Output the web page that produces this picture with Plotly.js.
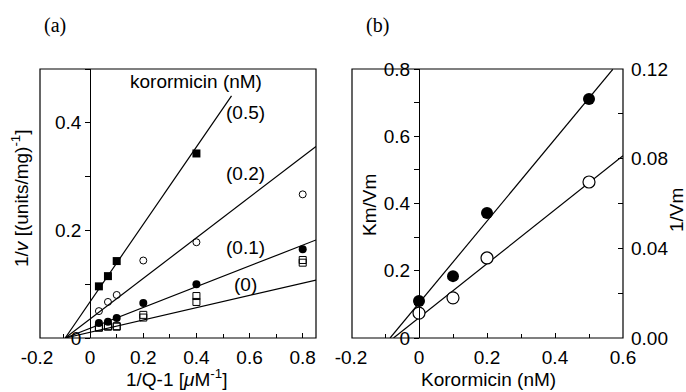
<!DOCTYPE html>
<html>
<head>
<meta charset="utf-8">
<script src="https://cdn.plot.ly/plotly-3.0.1.min.js"></script>
<style>html,body{margin:0;padding:0;background:#fff}#chart{width:686px;height:392px}</style>
</head>
<body>
<div id="chart"></div>
<script>
// ---------- Panel (a) data: 1/v vs 1/Q-1 ----------
const qInv = [0.033, 0.067, 0.1, 0.2, 0.4, 0.8];
const kor05_x = [0.033, 0.067, 0.1, 0.4];
const kor05_y = [0.096, 0.115, 0.143, 0.343];
const kor02_y = [0.050, 0.067, 0.080, 0.144, 0.178, 0.267];
const kor01_y = [0.028, 0.030, 0.037, 0.065, 0.100, 0.165];
const kor0a_y = [0.020, 0.022, 0.022, 0.043, 0.078, 0.145];
const kor0b_y = [0.019, 0.021, 0.021, 0.038, 0.067, 0.140];
// fitted lines (common x-intercept)
const fitA_x0 = -0.094;
const fitA_slopes = [0.114, 0.193, 0.377, 0.719];
const fitA_xend = [0.85, 0.85, 0.85, 0.532];
const fitA_labels = ["(0)", "(0.1)", "(0.2)", "(0.5)"];
const fitA_labelY = [0.10, 0.168, 0.305, 0.42];

// ---------- Panel (b) data: replot vs korormicin ----------
const korConc = [0, 0.1, 0.2, 0.5];
const kmVm = [0.110, 0.184, 0.372, 0.711];
const invVm = [0.0111, 0.0179, 0.0357, 0.0696];
const fitB_km = {x: [-0.085, 0.57], slope: 1.22};
const fitB_vm = {x: [-0.075, 0.6], slope: 0.1205};

// ---------- geometry ----------
const W = 686, H = 392;
const px = v => v / W, py = v => 1 - v / H;
const xA = [-0.2, 0.85], xB = [-0.2, 0.6];
const domXA = [px(37), px(316)], domXB = [px(351), px(623)];
const domY = [py(338), py(69)];
const posOf = (dom, rng) => dom[0] + (0 - rng[0]) / (rng[1] - rng[0]) * (dom[1] - dom[0]);

const FONT = "Liberation Sans, Arial, sans-serif";
const FS = 19;
const black = "#000";

const traces = [];
// fit lines panel (a)
fitA_slopes.forEach((s, i) => {
  const xs = [fitA_x0, fitA_xend[i]];
  traces.push({x: xs, y: xs.map(x => s * (x - fitA_x0)), mode: "lines",
    line: {color: black, width: 1.2}, xaxis: "x", yaxis: "y", hoverinfo: "skip", showlegend: false});
});
traces.push({x: kor05_x, y: kor05_y, mode: "markers", name: "0.5 nM",
  marker: {symbol: "square", size: 8, color: black}, xaxis: "x", yaxis: "y"});
traces.push({x: qInv, y: kor02_y, mode: "markers", name: "0.2 nM",
  marker: {symbol: "circle-open", size: 7, color: black, line: {width: 1}}, xaxis: "x", yaxis: "y"});
traces.push({x: qInv, y: kor01_y, mode: "markers", name: "0.1 nM",
  marker: {symbol: "circle", size: 8, color: black}, xaxis: "x", yaxis: "y"});
traces.push({x: qInv, y: kor0a_y, mode: "markers", name: "0 nM",
  marker: {symbol: "square-open", size: 7, color: black, line: {width: 1}}, xaxis: "x", yaxis: "y"});
traces.push({x: qInv, y: kor0b_y, mode: "markers", name: "0 nM (b)",
  marker: {symbol: "square-open", size: 7, color: black, line: {width: 1}}, xaxis: "x", yaxis: "y"});

// panel (b)
traces.push({x: fitB_km.x, y: fitB_km.x.map(x => fitB_km.slope * (x - fitB_km.x[0])), mode: "lines",
  line: {color: black, width: 1.2}, xaxis: "x2", yaxis: "y2", hoverinfo: "skip"});
traces.push({x: fitB_vm.x, y: fitB_vm.x.map(x => fitB_vm.slope * (x - fitB_vm.x[0])), mode: "lines",
  line: {color: black, width: 1.2}, xaxis: "x2", yaxis: "y3", hoverinfo: "skip"});
traces.push({x: korConc, y: kmVm, mode: "markers", name: "Km/Vm",
  marker: {symbol: "circle", size: 12, color: black}, xaxis: "x2", yaxis: "y2"});
traces.push({x: korConc, y: invVm, mode: "markers", name: "1/Vm",
  marker: {symbol: "circle", size: 12, color: "#fff", line: {color: black, width: 1.2}}, xaxis: "x2", yaxis: "y3"});

const tickFont = {family: FONT, size: FS, color: black};
const baseX = {showgrid: false, zeroline: false, showline: false, ticks: "inside", ticklen: 5,
  tickcolor: black, tickfont: tickFont, fixedrange: true, ticklabelstandoff: 6};

const ann = (text, x, y, extra) => Object.assign({text: text, xref: "paper", yref: "paper",
  x: px(x), y: py(y), xanchor: "center", yanchor: "middle", showarrow: false,
  font: {family: FONT, size: FS, color: black}}, extra || {});

const layout = {
  width: W, height: H, margin: {l: 0, r: 0, t: 0, b: 0},
  paper_bgcolor: "#fff", plot_bgcolor: "rgba(0,0,0,0)", showlegend: false,
  font: {family: FONT, color: black, size: FS},
  xaxis: Object.assign({}, baseX, {domain: domXA, range: xA, anchor: "y",
    tickvals: [-0.2, 0, 0.2, 0.4, 0.6, 0.8], ticktext: ["-0.2", "0", "0.2", "0.4", "0.6", "0.8"],
    minor: {dtick: 0.1, tick0: 0, ticks: "inside", ticklen: 4, tickcolor: black}}),
  yaxis: {domain: domY, range: [0, 0.5], anchor: "free", position: posOf(domXA, xA),
    showgrid: false, zeroline: false, showline: true, linecolor: black, linewidth: 1.2,
    ticks: "outside", ticklen: 5, tickcolor: black, tickfont: tickFont,
    tickvals: [0, 0.2, 0.4], ticktext: ["0", "0.2", "0.4"],
    minor: {dtick: 0.1, tick0: 0, ticks: "outside", ticklen: 5, tickcolor: black}},
  xaxis2: Object.assign({}, baseX, {domain: domXB, range: xB, anchor: "y2",
    tickvals: [-0.2, 0, 0.2, 0.4, 0.6], ticktext: ["-0.2", "0", "0.2", "0.4", "0.6"],
    minor: {dtick: 0.1, tick0: 0, ticks: "inside", ticklen: 4, tickcolor: black}}),
  yaxis2: {domain: domY, range: [0, 0.8], anchor: "free", position: posOf(domXB, xB),
    showgrid: false, zeroline: false, showline: true, linecolor: black, linewidth: 1.2,
    ticks: "outside", ticklen: 5, tickcolor: black, tickfont: tickFont,
    tickvals: [0, 0.2, 0.4, 0.6, 0.8], ticktext: ["0", "0.2", "0.4", "0.6", "0.8"],
    minor: {dtick: 0.1, tick0: 0, ticks: "outside", ticklen: 5, tickcolor: black}},
  yaxis3: {domain: domY, range: [0, 0.12], anchor: "x2", overlaying: "y2", side: "right",
    showgrid: false, zeroline: false, showline: false, ticklabelstandoff: 7,
    ticks: "inside", ticklen: 5, tickcolor: black, tickfont: tickFont,
    tickvals: [0, 0.04, 0.08, 0.12], ticktext: ["0.00", "0.04", "0.08", "0.12"],
    minor: {dtick: 0.02, tick0: 0, ticks: "inside", ticklen: 5, tickcolor: black}},
  shapes: [
    {type: "rect", xref: "paper", yref: "paper", x0: px(40), x1: px(316), y0: domY[0], y1: domY[1],
      line: {color: black, width: 1.2}},
    {type: "rect", xref: "paper", yref: "paper", x0: px(352), x1: px(623), y0: domY[0], y1: domY[1],
      line: {color: black, width: 1.2}}
  ],
  annotations: [
    ann("(a)", 55, 25, {font: {family: "Liberation Serif, Times New Roman, serif", size: 20, color: black}}),
    ann("(b)", 377, 25, {font: {family: "Liberation Serif, Times New Roman, serif", size: 20, color: black}}),
    ann("1/Q-1 [<i>μ</i>M<sup>-1</sup>]", 176, 378),
    ann("1/<i>v</i> [(units/mg)<sup>-1</sup>]", 20, 198, {textangle: -90}),
    ann("Korormicin (nM)", 488, 379),
    ann("Km/Vm", 369, 205, {textangle: -90}),
    ann("1/Vm", 676, 210, {textangle: -90}),
    {text: "korormicin (nM)", xref: "x", yref: "y", x: 0.40, y: 0.476, xanchor: "center", yanchor: "middle",
      showarrow: false, font: {family: FONT, size: FS, color: black}}
  ].concat(fitA_labels.map((t, i) => ({text: t, xref: "x", yref: "y", x: 0.583, y: fitA_labelY[i],
    xanchor: "center", yanchor: "middle", showarrow: false, font: {family: FONT, size: FS, color: black}})))
};

Plotly.newPlot("chart", traces, layout, {staticPlot: true, displayModeBar: false});
</script>
</body>
</html>
